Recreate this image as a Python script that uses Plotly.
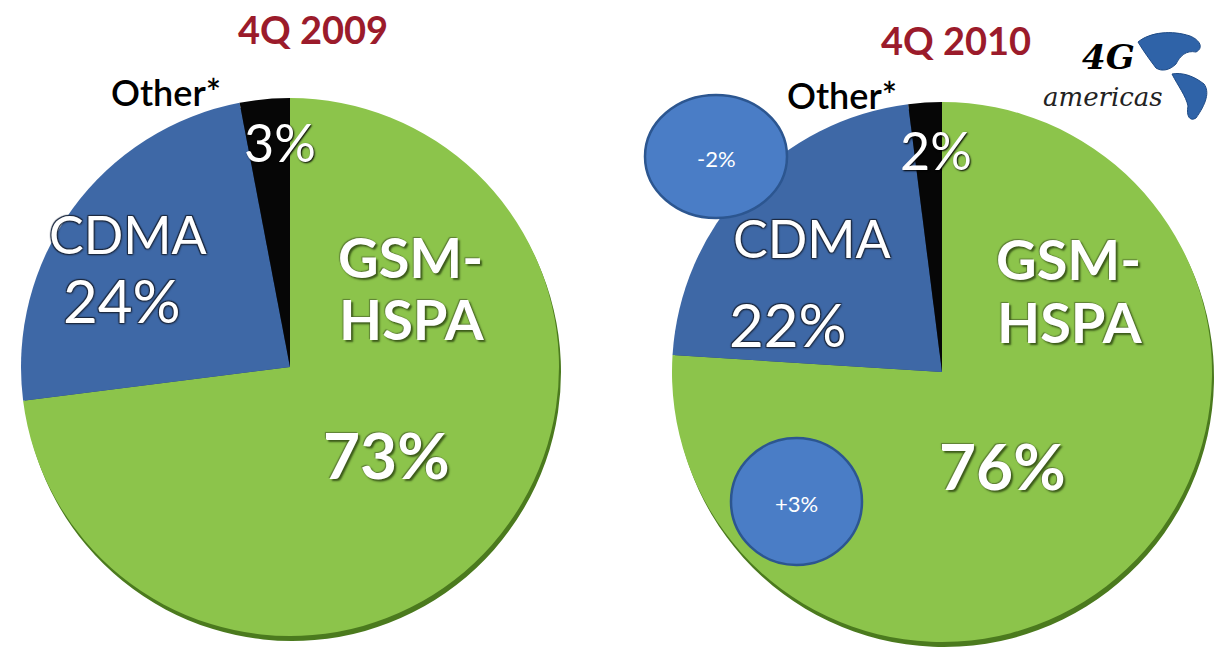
import re
import plotly.graph_objects as go

# ---- data ----
labels = ["GSM-HSPA", "CDMA", "Other*"]
share_2009 = [73, 24, 3]
share_2010 = [76, 22, 2]
titles = ["4Q 2009", "4Q 2010"]
change_labels = ["+3%", "-2%"]   # GSM-HSPA, CDMA change 2009 -> 2010

# ---- style ----
W, H = 1215, 650
colors = ["#8CC44B", "#3E68A6", "#060606"]
shadow_colors = ["#4B7A1E", "#263F66", "#000000"]
FONT = "Lato"


def px(x):
    return x / W


def py(y):
    return 1 - y / H


def dom(cx, cy, r, dy=0):
    return dict(x=[px(cx - r), px(cx + r)], y=[py(cy + dy + r), py(cy + dy - r)])


pies = [
    dict(values=share_2009, cx=290, cy=367, r=269),
    dict(values=share_2010, cx=942, cy=372, r=270),
]

fig = go.Figure()
for p in pies:
    # darker rim underneath for the 3D edge
    fig.add_trace(go.Pie(
        values=p["values"], labels=labels, sort=False, direction="clockwise",
        rotation=0, textinfo="none", hoverinfo="skip", showlegend=False,
        marker=dict(colors=shadow_colors, line=dict(width=0)),
        domain=dom(p["cx"] + 2, p["cy"], p["r"], dy=5),
    ))
    fig.add_trace(go.Pie(
        values=p["values"], labels=labels, sort=False, direction="clockwise",
        rotation=0, textinfo="none", showlegend=False,
        marker=dict(colors=colors, line=dict(width=0)),
        domain=dom(p["cx"], p["cy"], p["r"]),
    ))

ann = []


def add(text, x, y, size, color="white", weight="normal", shadow="none", family=FONT, style="normal"):
    ann.append(dict(
        text=text, x=px(x), y=py(y), xref="paper", yref="paper",
        xanchor="center", yanchor="middle", showarrow=False,
        font=dict(family=family, size=size, color=color, weight=weight, shadow=shadow, style=style),
    ))


dark_sh = "1px 1px 2px #1d2a40, -1px -1px 1px #1d2a40, 1px -1px 1px #1d2a40, -1px 1px 1px #1d2a40"
green_sh = "2px 2px 2px #3c5a1a, -1px -1px 1px #5d7f35"

layout_pos = [
    dict(title=(313, 29), other=(166, 92), small=(280, 142), cdma=(128, 234),
         cdma_pct=(122, 300), gsm=(410, 256), hspa=(412, 318), gsm_pct=(386, 455)),
    dict(title=(956, 40), other=(842, 95), small=(936, 150), cdma=(812, 238),
         cdma_pct=(788, 324), gsm=(1068, 258), hspa=(1070, 322), gsm_pct=(1002, 465)),
]

for vals, t, pos in zip([share_2009, share_2010], titles, layout_pos):
    add(t, *pos["title"], 38, color="#9B1B2B", weight="bold")
    add(labels[2], *pos["other"], 36, color="black", weight=600)
    add(f"{vals[2]}%", *pos["small"], 52, shadow="1px 1px 2px #000")
    add("CDMA", *pos["cdma"], 52, shadow=dark_sh)
    add(f"{vals[1]}%", *pos["cdma_pct"], 60, shadow=dark_sh)
    gsm_a, gsm_b = labels[0].split("-")
    add(gsm_a + "-", *pos["gsm"], 56, weight="bold", shadow=green_sh)
    add(gsm_b, *pos["hspa"], 56, weight="bold", shadow=green_sh)
    add(f"{vals[0]}%", *pos["gsm_pct"], 64, weight="bold", shadow=green_sh)

# change bubbles on the 2010 pie
bubbles = [dict(text=change_labels[1], box=(645, 95, 787, 218)),
           dict(text=change_labels[0], box=(731, 438, 862, 565))]
shapes = []
for b in bubbles:
    x0, y0, x1, y1 = b["box"]
    shapes.append(dict(type="circle", xref="paper", yref="paper",
                       x0=px(x0), x1=px(x1), y0=py(y1), y1=py(y0),
                       fillcolor="#4A7DC6", line=dict(color="#2C5690", width=2.5)))
    add(b["text"], (x0 + x1) / 2, (y0 + y1) / 2 + 2, 22)

# logo (text + rough blue emblem)
add("4G", 1108, 57, 34, color="black", weight="bold", family="DejaVu Serif", style="italic")
add("americas", 1103, 97, 26, color="#222", family="DejaVu Serif", style="italic")


def to_paper(path):
    tokens = re.split(r"([-\d.]+)", path)
    out, idx = [], 0
    for tok in tokens:
        if re.fullmatch(r"[-\d.]+", tok):
            val = float(tok)
            out.append(f"{px(val):.5f}" if idx % 2 == 0 else f"{py(val):.5f}")
            idx += 1
        else:
            out.append(tok)
    return "".join(out)


emblems = [
    "M1138,42 C1150,32 1172,30 1190,36 C1200,40 1204,48 1196,52 C1186,50 1180,56 1176,64 C1170,70 1162,72 1156,68 C1150,60 1144,52 1138,42 Z",
    "M1172,74 C1182,72 1194,76 1204,84 C1210,92 1206,104 1196,118 C1190,122 1186,116 1188,106 C1186,96 1178,86 1172,74 Z",
]
for e in emblems:
    shapes.append(dict(type="path", xref="paper", yref="paper", path=to_paper(e),
                       fillcolor="#2F63A8", line=dict(color="#1E4A85", width=1)))

fig.update_layout(
    width=W, height=H,
    margin=dict(l=0, r=0, t=0, b=0),
    paper_bgcolor="white", plot_bgcolor="white",
    annotations=ann, shapes=shapes,
)

fig.write_html("out.html", config={"displayModeBar": False},
               post_script="document.body.style.margin='0';")
